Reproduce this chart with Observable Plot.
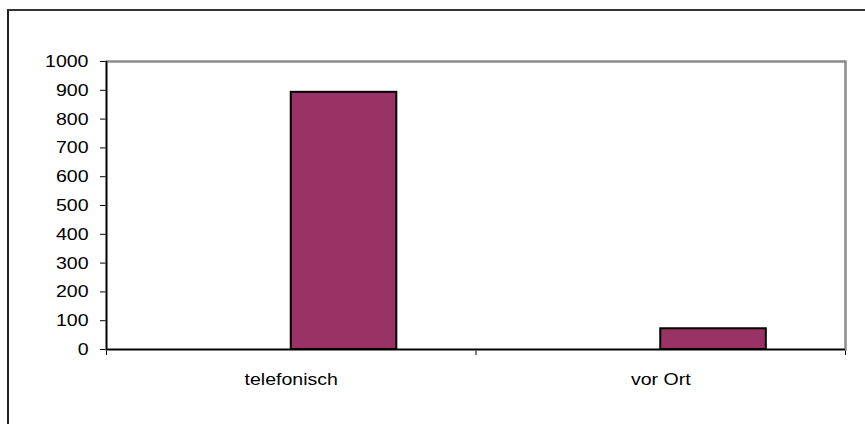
<!DOCTYPE html>
<html>
<head>
<meta charset="utf-8">
<script src="https://cdn.jsdelivr.net/npm/d3@7"></script>
<script src="https://cdn.jsdelivr.net/npm/@observablehq/plot@0.6"></script>
<style>
  html, body { margin: 0; padding: 0; background: #fff; overflow: hidden; }
  #wrap { position: relative; width: 865px; height: 424px; overflow: hidden; }
  #outer { position: absolute; left: 7px; top: 9px; width: 900px; height: 500px;
           border-left: 2px solid #222; border-top: 2px solid #333; pointer-events: none; }
  svg { font-family: "Liberation Sans", Arial, sans-serif; }
</style>
</head>
<body>
<div id="wrap"><div id="outer"></div></div>
<script>
const categories = ["telefonisch", "vor Ort"];
const values = [893, 72];
const yTicks = [0, 100, 200, 300, 400, 500, 600, 700, 800, 900, 1000];

// Excel clustered column layout: 2 series (first one empty), gap width 150%
const seriesCount = 2;
const gapWidth = 1.5;
const barW = 1 / (seriesCount + gapWidth);
const fontSize = 17;
const textStretch = 1.15;

const data = categories.map((c, i) => ({category: c, value: values[i], i}));

const chart = Plot.plot({
  width: 865,
  height: 424,
  marginLeft: 106,
  marginRight: 20,
  marginTop: 61,
  marginBottom: 75,
  style: {fontFamily: "'Liberation Sans', Arial, sans-serif", fontSize: fontSize + "px", color: "#000", background: "transparent"},
  x: {domain: [0, categories.length], ticks: d3.range(categories.length + 1), tickSize: 6, tickFormat: () => "", label: null},
  y: {domain: [0, 1000], ticks: yTicks, tickSize: 6, tickPadding: 12, tickFormat: d => String(d), label: null},
  marks: [
    Plot.frame({stroke: "#8c8c8c", strokeWidth: 2.5}),
    Plot.rectY(data, {
      x1: d => d.i + 0.5,
      x2: d => d.i + 0.5 + barW,
      y: "value",
      fill: "#993366",
      stroke: "#000",
      strokeWidth: 2
    }),
    Plot.ruleX([0], {stroke: "#000", strokeWidth: 1.5}),
    Plot.ruleY([0], {stroke: "#000", strokeWidth: 1.5}),
    Plot.text(data, {
      x: d => d.i + 0.5,
      y: () => 0,
      text: "category",
      dy: 30,
      fontSize: fontSize,
      fill: "#000"
    })
  ]
});
document.getElementById("wrap").prepend(chart);
chart.style.position = "absolute";
chart.style.left = "0";
chart.style.top = "0";

// widen glyphs horizontally, as in the reference rendering
d3.select(chart).selectAll("text").each(function() {
  if (!this.textContent) return;
  const bb = this.getBBox();
  let anchor = this.getAttribute("text-anchor");
  let el = this;
  while (!anchor && el.parentNode && el.parentNode.getAttribute) {
    el = el.parentNode;
    anchor = el.getAttribute("text-anchor");
  }
  const ax = anchor === "end" ? bb.x + bb.width : anchor === "start" ? bb.x : bb.x + bb.width / 2;
  const t = this.getAttribute("transform") || "";
  this.setAttribute("transform", `${t} translate(${ax},0) scale(${textStretch},1) translate(${-ax},0)`);
});
</script>
</body>
</html>
